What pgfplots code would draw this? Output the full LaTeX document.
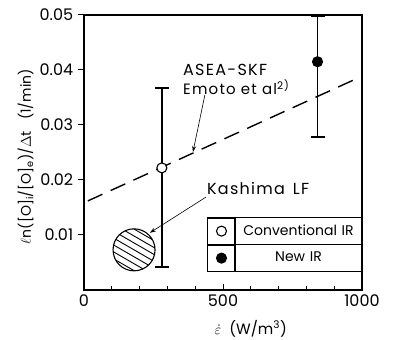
\documentclass[border=0pt]{standalone}
\usepackage{fontspec}
\setmainfont{Poppins}
\newfontfamily\wide[LetterSpace=8]{Poppins}
\usepackage{pgfplots}
\pgfplotsset{compat=1.18}
\usetikzlibrary{arrows.meta}
\pgfdeclareplotmark{hatchcircle}{%
  \begin{pgfscope}
    \pgfpathcircle{\pgfpointorigin}{\pgfplotmarksize}\pgfusepath{clip}
    \pgftransformrotate{-30}
    \foreach \k in {-3,...,3}{%
      \pgfpathmoveto{\pgfpoint{-30pt}{\k*6pt}}\pgfpathlineto{\pgfpoint{30pt}{\k*6pt}}}
    \pgfsetlinewidth{0.9pt}
    \pgfusepath{stroke}
  \end{pgfscope}
  \pgfpathcircle{\pgfpointorigin}{\pgfplotmarksize}\pgfusepath{stroke}}
\pgfplotsset{mylegimg/.style={legend image code/.code={%
  \path (0pt,-13pt) rectangle (27pt,13pt);
  \draw[mark repeat=2,mark phase=2,##1] plot coordinates {(0pt,0pt) (13.5pt,0pt) (27pt,0pt)};}},
  myerr/.style={error bars/.cd, y dir=both, y explicit,
  error bar style={line width=1.4pt, black},
  error mark=-,
  error mark options={rotate=90, line width=1.4pt, mark size=7pt, black}}}
\begin{document}
\fontsize{14}{16}\selectfont
\begin{tikzpicture}
\begin{axis}[
  scale only axis, width=278pt, height=275pt,
  xmin=0, xmax=1000, ymin=0, ymax=0.05,
  axis line style={line width=1.1pt},
  xtick={0,500,1000}, xticklabels={0,500,1000},
  minor xtick={100,200,300,400,600,700,800,900},
  ytick={0.01,0.02,0.03,0.04,0.05},
  yticklabels={0.01,0.02,0.03,0.04,0.05},
  xtick pos=bottom, ytick pos=left,
  xtick align=inside, ytick align=outside,
  major tick length=6pt, minor tick length=4pt,
  tick style={line width=1pt, black},
  tick label style={font=\fontsize{16}{18}\selectfont},
  scaled y ticks=false,
  /pgf/number format/assume math mode=true,
  clip=false,
  xlabel={\fontsize{15}{17}\selectfont$\dot{\varepsilon}$\ \ (W/m\textsuperscript{3})},
  xlabel style={at={(axis description cs:0.6,-0.14)}, anchor=center},
  ylabel={$\ell$n([O]\textsubscript{i}/[O]\textsubscript{e})/$\Delta$t\hspace{0.8em}(1/min)},
  ylabel style={at={(axis description cs:-0.21,0.485)}, anchor=center},
  legend style={name=leg, draw=black, line width=1pt, inner sep=0pt, column sep=0pt, row sep=0pt,
    at={(axis description cs:1,0.065)}, anchor=south east,
    nodes={text width=126pt, align=center, inner sep=0pt}},
  legend cell align=left,
]
\addplot[only marks, mark=hatchcircle, mark size=21pt, line width=1.1pt, forget plot]
  coordinates {(180,0.0073)};
\addplot[black, line width=1.4pt, dash pattern=on 16pt off 9pt, forget plot]
  coordinates {(14,0.0162) (975,0.0383)};
\addplot[only marks, mylegimg, mark=*, mark size=5pt, mark options={fill=white, draw=black, line width=1.1pt}, myerr]
  coordinates {(280,0.0222) += (0,0.0145) -= (0,0.018)};
\addlegendentry{Conventional IR}
\addplot[only marks, mylegimg, mark=*, mark size=5pt, mark options={fill=black, draw=black, line width=1.1pt}, myerr]
  coordinates {(840,0.0415) += (0,0.0083) -= (0,0.0137)};
\addlegendentry{New IR}
\node[anchor=west, inner sep=0pt, font=\fontsize{16}{18}\wide] at (axis cs:356,0.0400) {ASEA-SKF};
\node[anchor=west, inner sep=0pt, font=\fontsize{15}{17}\wide] at (axis cs:356,0.0369) {Emoto et al\textsuperscript{2)}};
\draw[-{Stealth[length=6pt,width=4pt]}, line width=0.6pt] (axis cs:435,0.0355) -- (axis cs:392,0.0251);
\node[anchor=west, inner sep=0pt, font=\fontsize{16}{18}\wide] at (axis cs:442,0.0185) {Kashima\hspace{0.5em}LF};
\draw[-{Stealth[length=6pt,width=4pt]}, line width=0.6pt] (axis cs:439,0.0169) -- (axis cs:237,0.0104);
\end{axis}
\draw[line width=1pt] ([xshift=27pt]leg.north west) -- ([xshift=27pt]leg.south west);
\draw[line width=1pt] (leg.west) -- (leg.east);
\pgfresetboundingbox
\path ([shift={(-84pt,-50pt)}]current axis.south west) rectangle ([shift={(37pt,15pt)}]current axis.north east);
\end{tikzpicture}
\end{document}
